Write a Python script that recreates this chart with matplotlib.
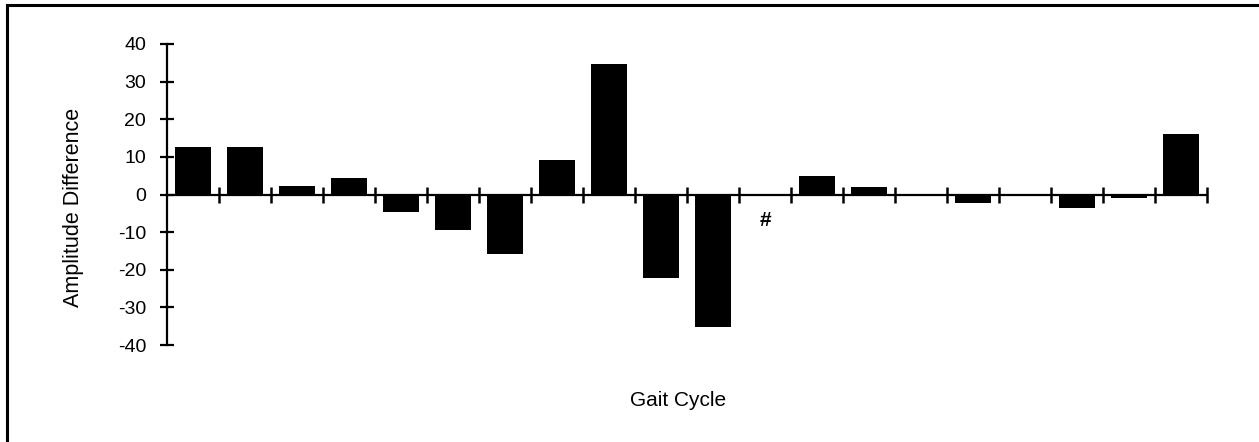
import matplotlib
matplotlib.use("Agg")
import matplotlib.pyplot as plt
from matplotlib.lines import Line2D
import numpy as np

plt.rcParams['font.family'] = ['Liberation Sans', 'DejaVu Sans']

cycles = list(range(1, 21))
amp_diff = [12.5, 12.5, 2.2, 4.4, -4.7, -9.5, -15.9, 9.2, 34.6, -22.3,
            -35.1, 0.0, 5.0, 1.9, 0.0, -2.2, 0.0, -3.5, -1.0, 16.2]
yticks = [-40, -30, -20, -10, 0, 10, 20, 30, 40]
missing_idx = 11  # cycle marked with '#'

W, H = 1259, 442
fig = plt.figure(figsize=(W / 100, H / 100), dpi=100)
ax = fig.add_axes([167 / W, 1 - 345 / H, (1207 - 167) / W, (345 - 44) / H])

x = np.arange(len(cycles)) + 0.5
ax.bar(x, amp_diff, width=0.68, color='black', edgecolor='none')

ax.set_xlim(0, len(cycles))
ax.set_ylim(-40, 40)
for s in ['top', 'right']:
    ax.spines[s].set_visible(False)
ax.spines['bottom'].set_position(('data', 0))
ax.spines['bottom'].set_linewidth(1.6)
ax.spines['left'].set_linewidth(1.6)

ax.set_yticks(yticks)
ax.set_yticklabels([str(v) for v in yticks], fontsize=14)
ax.tick_params(axis='y', direction='inout', length=10, width=1.6, pad=10)
ax.set_xticks(np.arange(1, len(cycles) + 1))
ax.set_xticklabels([])
ax.tick_params(axis='x', direction='inout', length=11, width=1.8)

ax.text(x[missing_idx], -6.9, '#', ha='center', va='center', fontsize=15,
        fontweight='bold')

fig.text(74 / W, 1 - 207 / H, 'Amplitude Difference', rotation=90,
         ha='center', va='center', fontsize=15.5)
fig.text(678 / W, 1 - 401 / H, 'Gait Cycle', ha='center', va='center',
         fontsize=15)

# page border (top and left)
fig.add_artist(Line2D([7 / W, 1.0], [1 - 5 / H, 1 - 5 / H],
                      transform=fig.transFigure, color='black', lw=2.2))
fig.add_artist(Line2D([7 / W, 7 / W], [0, 1 - 5 / H],
                      transform=fig.transFigure, color='black', lw=2.2))

fig.savefig('out.png', dpi=100)
